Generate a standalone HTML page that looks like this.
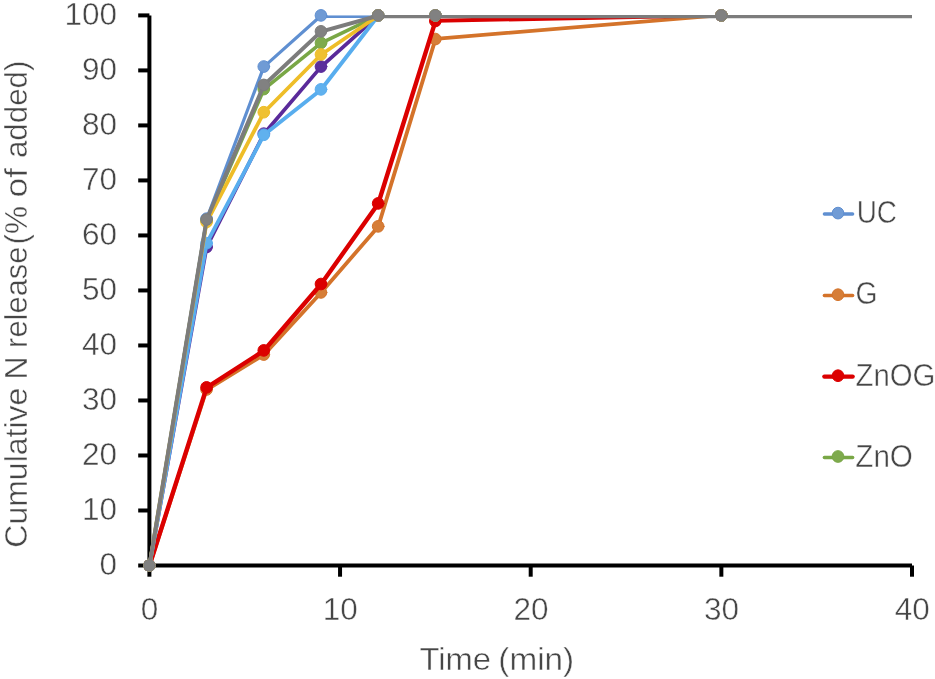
<!DOCTYPE html>
<html lang="en">
<head>
<meta charset="utf-8">
<title>Cumulative N release</title>
<style>
html,body{margin:0;padding:0;background:#fff;}
body{width:935px;height:679px;overflow:hidden;}
svg{display:block;}
text{font-family:"Liberation Sans",sans-serif;font-size:31.5px;fill:#464646;stroke:#ffffff;stroke-width:0.45px;}
</style>
</head>
<body>
<svg width="935" height="679" viewBox="0 0 935 679">
<rect x="0" y="0" width="935" height="679" fill="#ffffff"/>
<defs><clipPath id="below"><rect x="0" y="15.3" width="935" height="600"/></clipPath><clipPath id="plot"><rect x="140" y="0" width="772.0" height="600"/></clipPath></defs>

<g stroke="#000" stroke-width="4" fill="none" stroke-linecap="butt">
<line x1="149.4" y1="15.4" x2="149.4" y2="567.5"/>
<line x1="147.4" y1="565.5" x2="912.0" y2="565.5"/>
<line x1="138.20" y1="565.50" x2="149.4" y2="565.50"/>
<line x1="138.20" y1="510.49" x2="149.4" y2="510.49"/>
<line x1="138.20" y1="455.48" x2="149.4" y2="455.48"/>
<line x1="138.20" y1="400.47" x2="149.4" y2="400.47"/>
<line x1="138.20" y1="345.46" x2="149.4" y2="345.46"/>
<line x1="138.20" y1="290.45" x2="149.4" y2="290.45"/>
<line x1="138.20" y1="235.44" x2="149.4" y2="235.44"/>
<line x1="138.20" y1="180.43" x2="149.4" y2="180.43"/>
<line x1="138.20" y1="125.42" x2="149.4" y2="125.42"/>
<line x1="138.20" y1="70.41" x2="149.4" y2="70.41"/>
<line x1="138.20" y1="15.40" x2="149.4" y2="15.40"/>
<line x1="149.40" y1="565.5" x2="149.40" y2="576.70"/>
<line x1="340.05" y1="565.5" x2="340.05" y2="576.70"/>
<line x1="530.70" y1="565.5" x2="530.70" y2="576.70"/>
<line x1="721.35" y1="565.5" x2="721.35" y2="576.70"/>
<line x1="912.00" y1="565.5" x2="912.00" y2="576.70"/>
</g>
<g clip-path="url(#plot)" fill="none" stroke-linejoin="round" stroke-linecap="round">
<path d="M149.40 565.80L206.60 218.96M206.60 218.96L263.79 66.86M263.79 66.86L320.99 15.70" stroke="#5f8fd1" stroke-width="3.2"/>
<path d="M320.99 16.60L378.18 16.60" stroke="#5f8fd1" stroke-width="2.9" clip-path="url(#below)"/>
<circle cx="149.40" cy="565.50" r="5.85" fill="#709bd5" stroke="#5f8fd1" stroke-width="1"/>
<circle cx="206.60" cy="218.66" r="5.85" fill="#709bd5" stroke="#5f8fd1" stroke-width="1"/>
<circle cx="263.79" cy="66.56" r="5.85" fill="#709bd5" stroke="#5f8fd1" stroke-width="1"/>
<circle cx="320.99" cy="15.40" r="5.85" fill="#709bd5" stroke="#5f8fd1" stroke-width="1"/>
<circle cx="378.18" cy="15.40" r="5.85" fill="#709bd5" stroke="#5f8fd1" stroke-width="1"/>
<circle cx="435.38" cy="15.40" r="5.85" fill="#709bd5" stroke="#5f8fd1" stroke-width="1"/>
<circle cx="721.35" cy="15.40" r="5.85" fill="#709bd5" stroke="#5f8fd1" stroke-width="1"/>
<path d="M149.40 565.80L206.60 389.77M206.60 389.77L263.79 354.84M263.79 354.84L320.99 292.73M320.99 292.73L378.18 226.66M378.18 226.66L435.38 39.35" stroke="#d4732a" stroke-width="3.8"/>
<path d="M435.38 38.85L721.35 15.20" stroke="#d4732a" stroke-width="3.8" clip-path="url(#below)"/>
<circle cx="149.40" cy="565.50" r="5.85" fill="#d67e38" stroke="#d4732a" stroke-width="1"/>
<circle cx="206.60" cy="389.47" r="5.85" fill="#d67e38" stroke="#d4732a" stroke-width="1"/>
<circle cx="263.79" cy="354.54" r="5.85" fill="#d67e38" stroke="#d4732a" stroke-width="1"/>
<circle cx="320.99" cy="292.43" r="5.85" fill="#d67e38" stroke="#d4732a" stroke-width="1"/>
<circle cx="378.18" cy="226.36" r="5.85" fill="#d67e38" stroke="#d4732a" stroke-width="1"/>
<circle cx="435.38" cy="39.05" r="5.85" fill="#d67e38" stroke="#d4732a" stroke-width="1"/>
<circle cx="721.35" cy="15.40" r="5.85" fill="#d67e38" stroke="#d4732a" stroke-width="1"/>
<path d="M149.40 565.80L206.60 387.68M206.60 387.68L263.79 350.71M263.79 350.71L320.99 284.31M320.99 284.31L378.18 203.72M378.18 203.72L435.38 21.31" stroke="#db0000" stroke-width="4.4"/>
<path d="M435.38 20.81L721.35 15.20" stroke="#db0000" stroke-width="4.0" clip-path="url(#below)"/>
<circle cx="149.40" cy="565.50" r="5.85" fill="#dc0000" stroke="#db0000" stroke-width="1"/>
<circle cx="206.60" cy="387.38" r="5.85" fill="#dc0000" stroke="#db0000" stroke-width="1"/>
<circle cx="263.79" cy="350.41" r="5.85" fill="#dc0000" stroke="#db0000" stroke-width="1"/>
<circle cx="320.99" cy="284.01" r="5.85" fill="#dc0000" stroke="#db0000" stroke-width="1"/>
<circle cx="378.18" cy="203.42" r="5.85" fill="#dc0000" stroke="#db0000" stroke-width="1"/>
<circle cx="435.38" cy="21.01" r="5.85" fill="#dc0000" stroke="#db0000" stroke-width="1"/>
<circle cx="721.35" cy="15.40" r="5.85" fill="#dc0000" stroke="#db0000" stroke-width="1"/>
<path d="M149.40 565.80L206.60 220.89M206.60 220.89L263.79 89.41M263.79 89.41L320.99 43.20M320.99 43.20L378.18 15.70" stroke="#79a746" stroke-width="3.6"/>
<circle cx="149.40" cy="565.50" r="5.85" fill="#7eaa4d" stroke="#79a746" stroke-width="1"/>
<circle cx="206.60" cy="220.59" r="5.85" fill="#7eaa4d" stroke="#79a746" stroke-width="1"/>
<circle cx="263.79" cy="89.11" r="5.85" fill="#7eaa4d" stroke="#79a746" stroke-width="1"/>
<circle cx="320.99" cy="42.90" r="5.85" fill="#7eaa4d" stroke="#79a746" stroke-width="1"/>
<circle cx="378.18" cy="15.40" r="5.85" fill="#7eaa4d" stroke="#79a746" stroke-width="1"/>
<circle cx="435.38" cy="15.40" r="5.85" fill="#7eaa4d" stroke="#79a746" stroke-width="1"/>
<circle cx="721.35" cy="15.40" r="5.85" fill="#7eaa4d" stroke="#79a746" stroke-width="1"/>
<path d="M149.40 565.80L206.60 247.29M206.60 247.29L263.79 133.97M263.79 133.97L320.99 66.86M320.99 66.86L378.18 15.70" stroke="#5a2a9a" stroke-width="3.7"/>
<circle cx="149.40" cy="565.50" r="5.85" fill="#5c2f9c" stroke="#5a2a9a" stroke-width="1"/>
<circle cx="206.60" cy="246.99" r="5.85" fill="#5c2f9c" stroke="#5a2a9a" stroke-width="1"/>
<circle cx="263.79" cy="133.67" r="5.85" fill="#5c2f9c" stroke="#5a2a9a" stroke-width="1"/>
<circle cx="320.99" cy="66.56" r="5.85" fill="#5c2f9c" stroke="#5a2a9a" stroke-width="1"/>
<circle cx="378.18" cy="15.40" r="5.85" fill="#5c2f9c" stroke="#5a2a9a" stroke-width="1"/>
<circle cx="435.38" cy="15.40" r="5.85" fill="#5c2f9c" stroke="#5a2a9a" stroke-width="1"/>
<circle cx="721.35" cy="15.40" r="5.85" fill="#5c2f9c" stroke="#5a2a9a" stroke-width="1"/>
<path d="M149.40 565.80L206.60 243.44M206.60 243.44L263.79 135.07M263.79 135.07L320.99 89.69M320.99 89.69L378.18 15.70" stroke="#58adee" stroke-width="3.9"/>
<circle cx="149.40" cy="565.50" r="5.85" fill="#60b1ee" stroke="#58adee" stroke-width="1"/>
<circle cx="206.60" cy="243.14" r="5.85" fill="#60b1ee" stroke="#58adee" stroke-width="1"/>
<circle cx="263.79" cy="134.77" r="5.85" fill="#60b1ee" stroke="#58adee" stroke-width="1"/>
<circle cx="320.99" cy="89.39" r="5.85" fill="#60b1ee" stroke="#58adee" stroke-width="1"/>
<circle cx="378.18" cy="15.40" r="5.85" fill="#60b1ee" stroke="#58adee" stroke-width="1"/>
<circle cx="435.38" cy="15.40" r="5.85" fill="#60b1ee" stroke="#58adee" stroke-width="1"/>
<circle cx="721.35" cy="15.40" r="5.85" fill="#60b1ee" stroke="#58adee" stroke-width="1"/>
<path d="M149.40 565.80L206.60 222.26M206.60 222.26L263.79 112.52M263.79 112.52L320.99 54.76M320.99 54.76L378.18 15.70" stroke="#eebd28" stroke-width="3.8"/>
<circle cx="149.40" cy="565.50" r="5.85" fill="#efc132" stroke="#eebd28" stroke-width="1"/>
<circle cx="206.60" cy="221.96" r="5.85" fill="#efc132" stroke="#eebd28" stroke-width="1"/>
<circle cx="263.79" cy="112.22" r="5.85" fill="#efc132" stroke="#eebd28" stroke-width="1"/>
<circle cx="320.99" cy="54.46" r="5.85" fill="#efc132" stroke="#eebd28" stroke-width="1"/>
<circle cx="378.18" cy="15.40" r="5.85" fill="#efc132" stroke="#eebd28" stroke-width="1"/>
<circle cx="435.38" cy="15.40" r="5.85" fill="#efc132" stroke="#eebd28" stroke-width="1"/>
<circle cx="721.35" cy="15.40" r="5.85" fill="#efc132" stroke="#eebd28" stroke-width="1"/>
<path d="M149.40 565.80L206.60 219.79M206.60 219.79L263.79 85.23M263.79 85.23L320.99 31.65M320.99 31.65L378.18 15.70" stroke="#7c7c7c" stroke-width="4.0"/>
<path d="M378.18 16.60L435.38 16.60M435.38 16.60L721.35 16.60M721.35 16.60L1293.30 16.60" stroke="#7c7c7c" stroke-width="3.2"/>
<circle cx="149.40" cy="565.50" r="5.85" fill="#818181" stroke="#7c7c7c" stroke-width="1"/>
<circle cx="206.60" cy="219.49" r="5.85" fill="#818181" stroke="#7c7c7c" stroke-width="1"/>
<circle cx="263.79" cy="84.93" r="5.85" fill="#818181" stroke="#7c7c7c" stroke-width="1"/>
<circle cx="320.99" cy="31.35" r="5.85" fill="#818181" stroke="#7c7c7c" stroke-width="1"/>
<circle cx="378.18" cy="15.40" r="5.85" fill="#818181" stroke="#7c7c7c" stroke-width="1"/>
<circle cx="435.38" cy="15.40" r="5.85" fill="#818181" stroke="#7c7c7c" stroke-width="1"/>
<circle cx="721.35" cy="15.40" r="5.85" fill="#818181" stroke="#7c7c7c" stroke-width="1"/>
</g>
<g text-anchor="end">
<text x="117" y="574.9">0</text>
<text x="117" y="519.9">10</text>
<text x="117" y="464.9">20</text>
<text x="117" y="409.9">30</text>
<text x="117" y="354.9">40</text>
<text x="117" y="299.8">50</text>
<text x="117" y="244.8">60</text>
<text x="117" y="189.8">70</text>
<text x="117" y="134.8">80</text>
<text x="117" y="79.8">90</text>
<text x="117" y="24.8">100</text>
</g>
<g text-anchor="middle">
<text x="149.6" y="619.7">0</text>
<text x="340.2" y="619.7">10</text>
<text x="530.9" y="619.7">20</text>
<text x="721.6" y="619.7">30</text>
<text x="912.2" y="619.7">40</text>
</g>
<text x="419.4" y="669.7" textLength="71.7" lengthAdjust="spacingAndGlyphs">Time</text>
<text x="498.3" y="669.7" textLength="75.9" lengthAdjust="spacingAndGlyphs">(min)</text>
<text transform="translate(27.2,547.7) rotate(-90)" x="0" y="0" textLength="160.0" lengthAdjust="spacingAndGlyphs">Cumulative</text>
<text transform="translate(27.2,379.4) rotate(-90)" x="0" y="0" textLength="23.0" lengthAdjust="spacingAndGlyphs">N</text>
<text transform="translate(27.2,347.9) rotate(-90)" x="0" y="0" textLength="101.4" lengthAdjust="spacingAndGlyphs">release</text>
<text transform="translate(27.2,244.5) rotate(-90)" x="0" y="0" textLength="38.5" lengthAdjust="spacingAndGlyphs">(%</text>
<text transform="translate(27.2,197.4) rotate(-90)" x="0" y="0" textLength="29.4" lengthAdjust="spacingAndGlyphs">of</text>
<text transform="translate(27.2,158.1) rotate(-90)" x="0" y="0" textLength="97.6" lengthAdjust="spacingAndGlyphs">added)</text>
<line x1="824.4" y1="214.0" x2="852.6" y2="214.0" stroke="#5f8fd1" stroke-width="3.4" stroke-linecap="round"/>
<circle cx="838" cy="213.1" r="5.85" fill="#709bd5" stroke="#5f8fd1" stroke-width="1"/>
<text x="856.7" y="222.7" textLength="40.25" lengthAdjust="spacingAndGlyphs">UC</text>
<line x1="824.4" y1="295.6" x2="852.6" y2="295.6" stroke="#d4732a" stroke-width="3.5" stroke-linecap="round"/>
<circle cx="838" cy="294.7" r="5.85" fill="#d67e38" stroke="#d4732a" stroke-width="1"/>
<text x="855.4" y="304.2" textLength="22.0" lengthAdjust="spacingAndGlyphs">G</text>
<line x1="824.4" y1="376.6" x2="852.6" y2="376.6" stroke="#db0000" stroke-width="4.4" stroke-linecap="round"/>
<circle cx="838" cy="375.7" r="5.85" fill="#dc0000" stroke="#db0000" stroke-width="1"/>
<text x="855.5" y="385.9" textLength="79.9" lengthAdjust="spacingAndGlyphs">ZnOG</text>
<line x1="824.4" y1="457.4" x2="852.6" y2="457.4" stroke="#79a746" stroke-width="3.5" stroke-linecap="round"/>
<circle cx="838" cy="456.5" r="5.85" fill="#7eaa4d" stroke="#79a746" stroke-width="1"/>
<text x="855.3" y="466.5" textLength="57.6" lengthAdjust="spacingAndGlyphs">ZnO</text>
</svg>
</body>
</html>
